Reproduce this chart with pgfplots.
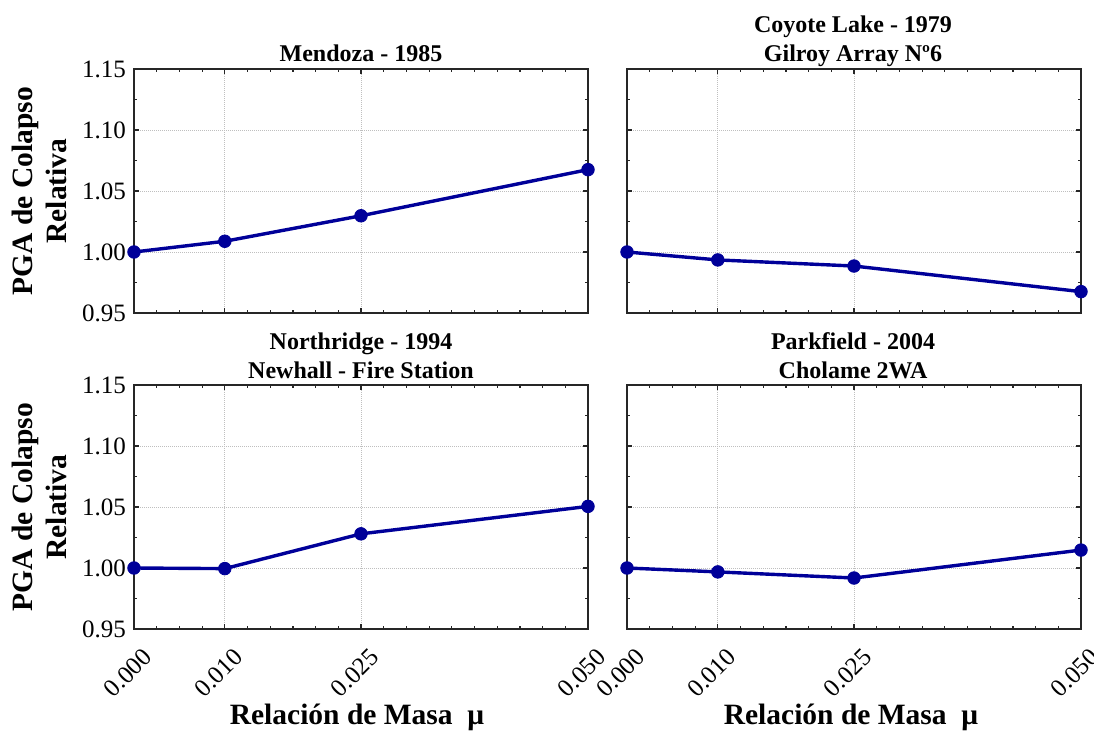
\documentclass[border=0pt]{standalone}
\usepackage{fontspec}
\setmainfont{Liberation Serif}
\usepackage{pgfplots}
\pgfplotsset{compat=1.18}
\definecolor{lineblue}{RGB}{0,0,153}
\definecolor{axgray}{RGB}{38,38,38}
\pgfplotsset{
  myax/.style={
    scale only axis, width=454pt, height=244pt,
    xmin=0, xmax=0.05, ymin=0.95, ymax=1.15,
    scaled x ticks=false, scaled y ticks=false,
    xtick={0,0.01,0.025,0.05},
    minor xtick={0.0025,0.005,0.0075,0.0125,0.015,0.0175,0.02,0.0225,0.0275,0.03,0.0325,0.035,0.0375,0.04,0.0425,0.045,0.0475},
    ytick={0.95,1.00,1.05,1.10,1.15},
    minor ytick={0.975,1.025,1.075,1.125},
    tick align=inside,
    major tick length=5pt, minor tick length=3pt,
    axis line style={axgray, line width=2pt},
    every tick/.append style={axgray, line width=1.2pt},
    grid=major,
    major grid style={gray!50, line width=0.8pt, dash pattern=on 1pt off 1pt},
    clip=false,
    tick label style={font=\fontsize{25}{30}\selectfont, text=black},
    yticklabel style={anchor=east, inner sep=0pt, xshift=-8pt},
    xticklabel style={rotate=45, anchor=north east, inner sep=0pt, xshift=-7pt, yshift=-18pt},
  },
  myplot/.style={lineblue, line width=3.4pt, mark=*, mark size=6.3pt, mark options={solid, fill=lineblue, draw=lineblue, line width=0.8pt}},
}
\begin{document}
\begin{tikzpicture}
\useasboundingbox (0,0) rectangle (1094pt,731pt);
% top left
\begin{axis}[myax, at={(134pt,418pt)}, anchor=south west,
  yticklabels={0.95,1.00,1.05,1.10,1.15}, xticklabels={}]
\addplot[myplot] coordinates {(0,1.000) (0.01,1.0088) (0.025,1.0297) (0.05,1.0675)};
\end{axis}
% top right
\begin{axis}[myax, at={(627pt,418pt)}, anchor=south west,
  yticklabels={}, xticklabels={}]
\addplot[myplot] coordinates {(0,1.000) (0.01,0.9935) (0.025,0.9885) (0.05,0.9675)};
\end{axis}
% bottom left
\begin{axis}[myax, at={(134pt,102pt)}, anchor=south west,
  yticklabels={0.95,1.00,1.05,1.10,1.15}, xticklabels={0.000,0.010,0.025,0.050}]
\addplot[myplot] coordinates {(0,1.000) (0.01,0.9995) (0.025,1.028) (0.05,1.0505)};
\end{axis}
% bottom right
\begin{axis}[myax, at={(627pt,102pt)}, anchor=south west,
  yticklabels={}, xticklabels={0.000,0.010,0.025,0.050}]
\addplot[myplot] coordinates {(0,1.000) (0.01,0.9968) (0.025,0.9918) (0.05,1.0147)};
\end{axis}
% titles
\begin{scope}[every node/.style={anchor=base, inner sep=0pt, font=\bfseries\fontsize{24}{29}\selectfont}]
\node at (361pt,669pt) {Mendoza - 1985};
\node at (853pt,698pt) {Coyote Lake - 1979};
\node at (853pt,669pt) {Gilroy Array Nº6};
\node at (361pt,381pt) {Northridge - 1994};
\node at (361pt,352pt) {Newhall - Fire Station};
\node at (853pt,381pt) {Parkfield - 2004};
\node at (853pt,352pt) {Cholame 2WA};
\end{scope}
% axis labels
\begin{scope}[every node/.style={anchor=base, inner sep=0pt, font=\bfseries\fontsize{29.5}{34}\selectfont}]
\node[rotate=90] at (32pt,540pt) {PGA de Colapso};
\node[rotate=90] at (66pt,540pt) {Relativa};
\node[rotate=90] at (32pt,224pt) {PGA de Colapso};
\node[rotate=90] at (66pt,224pt) {Relativa};
\node at (357pt,7pt) {Relación de Masa\ \ μ};
\node at (851pt,7pt) {Relación de Masa\ \ μ};
\end{scope}
\end{tikzpicture}
\end{document}
